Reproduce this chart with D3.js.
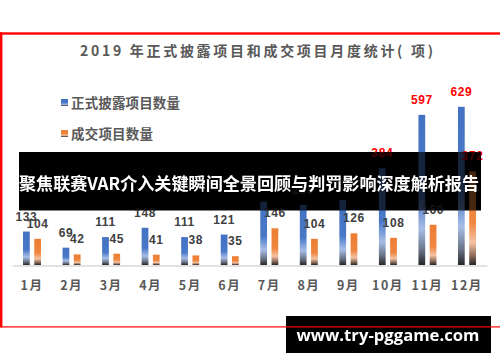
<!DOCTYPE html>
<html>
<head>
<meta charset="utf-8">
<script src="https://cdn.jsdelivr.net/npm/d3@7"></script>
<style>
  html, body { margin: 0; padding: 0; background: #fff; }
  svg { display: block; }
</style>
</head>
<body>
<div id="chart"></div>
<script>
// chart data
const months = ["1月", "2月", "3月", "4月", "5月", "6月", "7月", "8月", "9月", "10月", "11月", "12月"];
const disclosed = [133, 69, 111, 148, 111, 121, 252, 239, 258, 384, 597, 629];
const traded = [104, 42, 45, 41, 38, 35, 146, 104, 126, 108, 160, 372];
const seriesNames = ["正式披露项目数量", "成交项目数量"];
const chartTitle = "2019 年正式披露项目和成交项目月度统计( 项)";
const bannerText = "聚焦联赛VAR介入关键瞬间全景回顾与判罚影响深度解析报告";
const footerText = "www.try-pggame.com";

const W = 500, H = 362;
const cjk = "'Noto Sans CJK SC', 'Noto Sans', sans-serif";

const svg = d3.select("#chart").append("svg")
    .attr("width", W)
    .attr("height", H);

svg.append("rect").attr("width", W).attr("height", H).attr("fill", "#fff");

// gradients like the office-style bar fill
const defs = svg.append("defs");
function grad(id, stops) {
    const g = defs.append("linearGradient").attr("id", id)
        .attr("x1", 0).attr("y1", 0).attr("x2", 0).attr("y2", 1);
    stops.forEach(s => g.append("stop").attr("offset", s[0]).attr("stop-color", s[1]));
}
grad("gBlue", [[0, "#4472c4"], [0.55, "#4a78c8"], [0.76, "#a7bde6"], [0.9, "#6a7488"], [1, "#262626"]]);
grad("gOrange", [[0, "#ed7d31"], [0.55, "#ef8641"], [0.76, "#f6c3a3"], [0.9, "#8c6c5a"], [1, "#262626"]]);

defs.append("clipPath").attr("id", "bannerClip")
    .append("rect").attr("x", 19).attr("y", 152).attr("width", 462).attr("height", 58.5);

// red frame
svg.append("rect").attr("x", 0).attr("y", 32.3).attr("width", W).attr("height", 2.4).attr("fill", "#ff0000");
svg.append("rect").attr("x", 0).attr("y", 32.3).attr("width", 2.4).attr("height", 295).attr("fill", "#ff0000");

// title
svg.append("text")
    .attr("x", 256.5).attr("y", 55.5)
    .attr("text-anchor", "middle")
    .attr("textLength", 353).attr("lengthAdjust", "spacing")
    .style("font-family", cjk).style("font-size", "14px").style("font-weight", "bold")
    .style("fill", "#595959")
    .text(chartTitle);

// legend
const legend = svg.append("g");
[["gBlue", 99, 107.5, 109], ["gOrange", 130, 139, 82]].forEach((l, i) => {
    legend.append("rect").attr("x", 61).attr("y", l[1]).attr("width", 7).attr("height", 7)
        .attr("fill", `url(#${l[0]})`);
    legend.append("text").attr("x", 71).attr("y", l[2])
        .attr("textLength", l[3]).attr("lengthAdjust", "spacing")
        .style("font-family", cjk).style("font-size", "13.5px").style("font-weight", "bold")
        .style("fill", "#595959")
        .text(seriesNames[i]);
});

// plot
const x = d3.scaleBand().domain(months).range([12.25, 486.75]);
const x1 = d3.scaleBand().domain([0, 1]).range([-9, 9]).paddingInner(0.4);
const y = d3.scaleLinear().domain([0, 700]).range([265, 265 - 700 * 0.2515]);

const data = months.map((m, i) => ({ month: m, values: [disclosed[i], traded[i]] }));

const plot = svg.append("g").attr("id", "plot");

const xAxis = plot.append("g")
    .attr("transform", "translate(0,265.5)")
    .call(d3.axisBottom(x).tickSize(0).tickPadding(16).tickSizeOuter(0));
xAxis.select(".domain").attr("stroke", "#d9d9d9").attr("stroke-width", 1.6);
xAxis.selectAll("text")
    .style("font-family", cjk).style("font-size", "12.5px").style("font-weight", "bold")
    .style("letter-spacing", "1.5px")
    .style("fill", "#595959");

const groups = plot.selectAll(".month")
    .data(data)
    .enter().append("g")
    .attr("class", "month")
    .attr("transform", d => `translate(${x(d.month) + x.bandwidth() / 2},0)`);

groups.selectAll("rect")
    .data(d => d.values)
    .enter().append("rect")
    .attr("x", (v, i) => x1(i))
    .attr("y", v => y(v))
    .attr("width", x1.bandwidth())
    .attr("height", v => y(0) - y(v))
    .attr("fill", (v, i) => i === 0 ? "url(#gBlue)" : "url(#gOrange)");

groups.selectAll("text")
    .data(d => d.values)
    .enter().append("text")
    .attr("x", (v, i) => x1(i) + x1.bandwidth() / 2)
    .attr("y", v => y(v) - 11)
    .attr("text-anchor", "middle")
    .style("font-family", "'Liberation Sans', Arial, sans-serif")
    .style("font-size", "12px").style("font-weight", "bold")
    .style("letter-spacing", "0.6px")
    .style("fill", v => v > 300 ? "#ff0000" : "#404040")
    .text(v => v);

// banner with the chart faintly showing through
svg.append("rect").attr("x", 19).attr("y", 152).attr("width", 462).attr("height", 58.5).attr("fill", "#000");
svg.append("use").attr("href", "#plot").attr("clip-path", "url(#bannerClip)").attr("opacity", 0.3);
svg.append("text")
    .attr("x", 249).attr("y", 189.5)
    .attr("text-anchor", "middle")
    .attr("textLength", 460).attr("lengthAdjust", "spacingAndGlyphs")
    .style("font-family", cjk).style("font-size", "17.5px").style("font-weight", "bold")
    .style("fill", "#fff")
    .text(bannerText);

// footer
svg.append("rect").attr("x", 286).attr("y", 316).attr("width", 205).attr("height", 37).attr("fill", "#000");
svg.append("text")
    .attr("x", 388).attr("y", 340.5)
    .attr("text-anchor", "middle")
    .attr("textLength", 183).attr("lengthAdjust", "spacingAndGlyphs")
    .style("font-family", "'Open Sans', 'DejaVu Sans', sans-serif")
    .style("font-size", "15.5px").style("font-weight", "bold")
    .style("fill", "#fff")
    .text(footerText);
svg.append("rect").attr("x", 0).attr("y", 326.3).attr("width", W).attr("height", 1.2).attr("fill", "#ff0000");
</script>
</body>
</html>
